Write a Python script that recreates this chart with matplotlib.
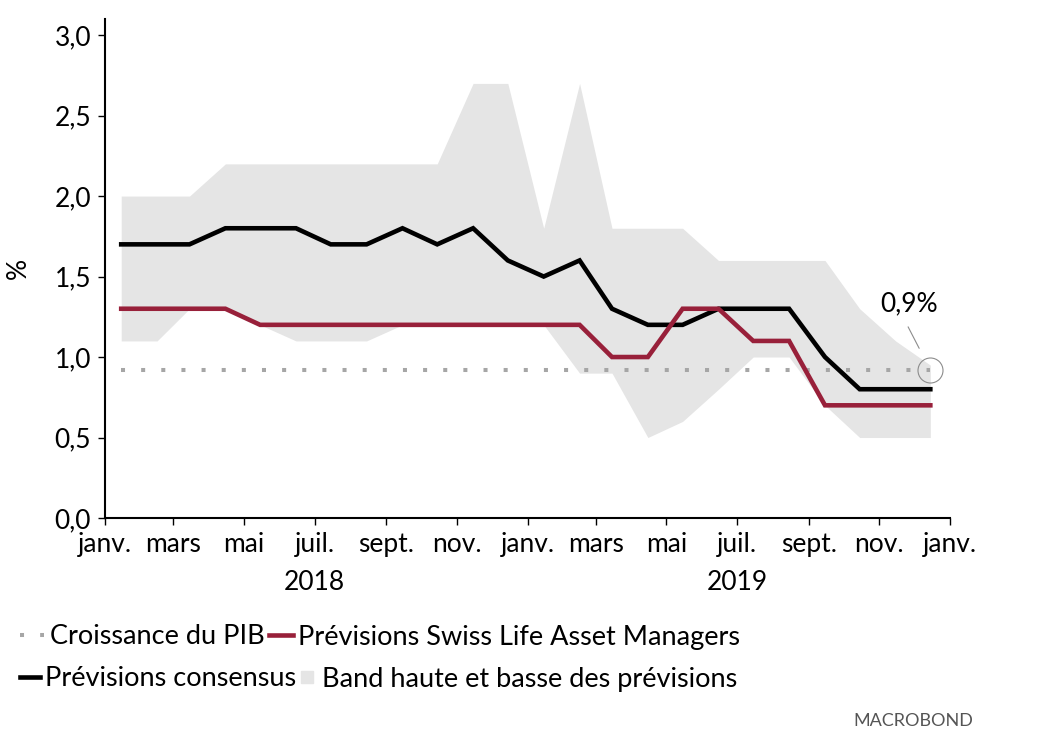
import numpy as np
import pandas as pd
import matplotlib
matplotlib.use("Agg")
from matplotlib import pyplot as plt
import matplotlib.dates as mdates
from matplotlib.lines import Line2D
from matplotlib.ticker import FuncFormatter
import matplotlib.transforms as mtransforms

plt.rcParams['font.family'] = ['Lato', 'DejaVu Sans']

# monthly observations, plotted mid-month
dates = pd.date_range("2018-01-01", "2019-12-01", freq="MS") + pd.Timedelta(days=14)

band_high = [2.0, 2.0, 2.0, 2.2, 2.2, 2.2, 2.2, 2.2, 2.2, 2.2, 2.7, 2.7,
             1.8, 2.7, 1.8, 1.8, 1.8, 1.6, 1.6, 1.6, 1.6, 1.3, 1.1, 0.95]
band_low = [1.1, 1.1, 1.3, 1.3, 1.2, 1.1, 1.1, 1.1, 1.2, 1.2, 1.2, 1.2,
            1.2, 0.9, 0.9, 0.5, 0.6, 0.8, 1.0, 1.0, 0.7, 0.5, 0.5, 0.5]
consensus = [1.7, 1.7, 1.7, 1.8, 1.8, 1.8, 1.7, 1.7, 1.8, 1.7, 1.8, 1.6,
             1.5, 1.6, 1.3, 1.2, 1.2, 1.3, 1.3, 1.3, 1.0, 0.8, 0.8, 0.8]
swisslife = [1.3, 1.3, 1.3, 1.3, 1.2, 1.2, 1.2, 1.2, 1.2, 1.2, 1.2, 1.2,
             1.2, 1.2, 1.0, 1.0, 1.3, 1.3, 1.1, 1.1, 0.7, 0.7, 0.7, 0.7]
gdp = [0.92, 0.92, 0.92, 0.92, 0.92, 0.92, 0.92, 0.92, 0.92, 0.92, 0.92, 0.92,
       0.92, 0.92, 0.92, 0.92, 0.92, 0.92, 0.92, 0.92, 0.92, 0.92, 0.92, 0.92]

mois = {1: "janv.", 3: "mars", 5: "mai", 7: "juil.", 9: "sept.", 11: "nov."}
years = ["2018", "2019"]

RED = "#98203a"
BAND = "#e5e5e5"
DOTS = "#a6a6a6"
FS = 19
LFS = 19.5

fig = plt.figure(figsize=(10.39, 7.56), dpi=100)
ax = fig.add_axes([105 / 1039, 1 - 518 / 756, 845 / 1039, 499 / 756])

ax.fill_between(dates, band_low, band_high, color=BAND, lw=0, zorder=1)
ax.plot(dates, gdp, color=DOTS, lw=2.9, linestyle=(0, (1, 4)),
        dash_capstyle="butt", zorder=2)
ax.plot(dates, consensus, color="black", lw=3.3, solid_joinstyle="miter", zorder=3)
ax.plot(dates, swisslife, color=RED, lw=3.3, solid_joinstyle="miter", zorder=4)

# highlight last GDP value
ax.plot(dates[-1], gdp[-1], "o", ms=18, mfc="none", mec="#8c8c8c", mew=0.8, zorder=5)
ax.annotate("", xy=(dates[-1], gdp[-1]), xytext=(-16, 31), textcoords="offset points",
            arrowprops=dict(arrowstyle="-", color="#8c8c8c", lw=0.8,
                            shrinkA=0, shrinkB=17.5))
ax.annotate("0,9%", xy=(dates[-1], gdp[-1]), xytext=(-15, 47.5),
            textcoords="offset points", ha="center", va="center", fontsize=FS)

ax.set_xlim(pd.Timestamp("2018-01-01"), pd.Timestamp("2020-01-01"))
ax.set_ylim(0, 3.1)
ax.set_yticks(np.arange(0, 3.01, 0.5))
ax.yaxis.set_major_formatter(FuncFormatter(lambda v, p: f"{v:.1f}".replace(".", ",")))
ax.xaxis.set_major_locator(mdates.MonthLocator(bymonth=[1, 3, 5, 7, 9, 11]))
ax.xaxis.set_major_formatter(FuncFormatter(lambda v, p: mois[mdates.num2date(v).month]))

for s in ["top", "right"]:
    ax.spines[s].set_visible(False)
for s in ["left", "bottom"]:
    ax.spines[s].set_linewidth(1.5)
ax.tick_params(axis="both", length=5, width=1, labelsize=FS)
ax.tick_params(axis="y", pad=5)
ax.tick_params(axis="x", pad=5)

ax.set_ylabel("%", fontsize=FS)
ax.yaxis.set_label_coords(-0.088, 0.5)

trans = mtransforms.blended_transform_factory(ax.transData, ax.transAxes)
for y in years:
    ax.text(pd.Timestamp(y + "-07-01"), -0.13, y, transform=trans,
            ha="center", va="center", fontsize=FS)

# legend, two flowing rows
h_gdp = Line2D([], [], color=DOTS, lw=2.9, linestyle=(0, (1, 4)), dash_capstyle="butt")
h_sl = Line2D([], [], color=RED, lw=3.3)
h_cons = Line2D([], [], color="black", lw=3.3)
h_band = Line2D([], [], color=BAND, marker="s", ms=9, lw=0)

leg_kw = dict(loc="center left", frameon=False, ncol=2, fontsize=LFS, borderpad=0,
              handletextpad=0.2, borderaxespad=0)
fig.legend([h_gdp, h_sl], ["Croissance du PIB", "Prévisions Swiss Life Asset Managers"],
           bbox_to_anchor=(20 / 1039, 1 - 637 / 756), handlelength=0.9,
           columnspacing=0.15, **leg_kw)
fig.legend([h_cons, h_band], ["Prévisions consensus", "Band haute et basse des prévisions"],
           bbox_to_anchor=(20 / 1039, 1 - 679 / 756), handlelength=0.72,
           columnspacing=0.05, **leg_kw)

fig.text(913 / 1039, 1 - 721 / 756, "MACROBOND", ha="center", va="center",
         fontsize=13, color="#555555")

fig.savefig("out.png", dpi=100)
